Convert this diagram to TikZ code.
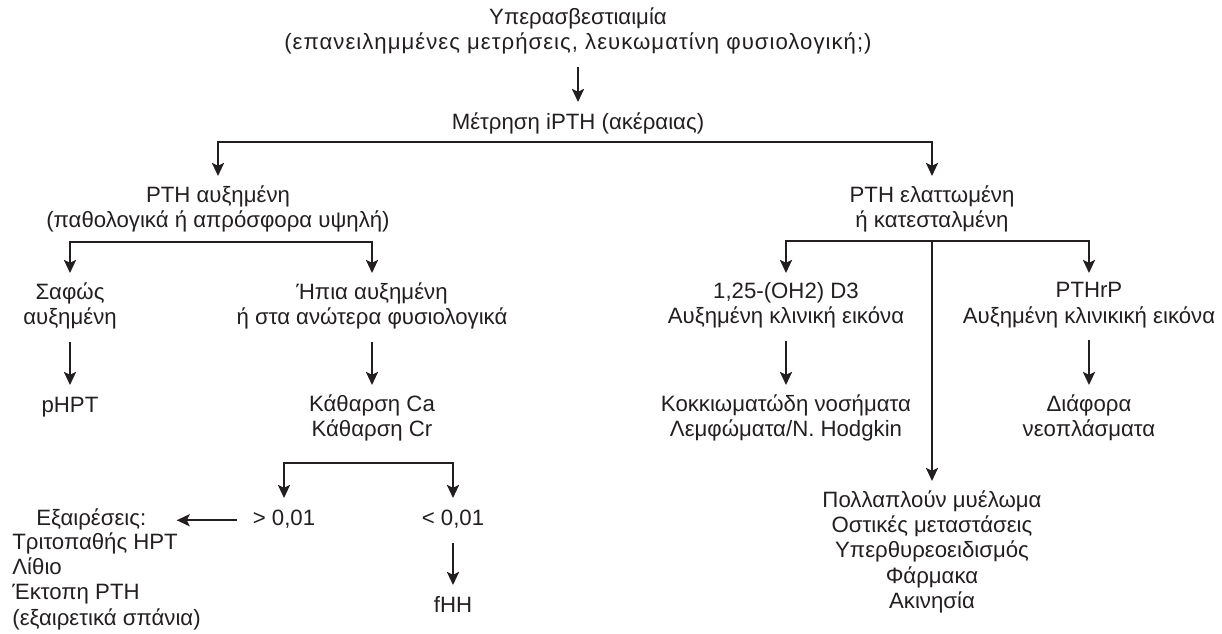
\documentclass[tikz,border=0pt]{standalone}
\usepackage{fontspec}
\setmainfont{Liberation Sans}
\usetikzlibrary{arrows.meta}
\definecolor{tinta}{RGB}{35,31,32}
\tikzset{
  caja/.style={align=center, inner xsep=0pt, inner ysep=4.6pt, anchor=north,
    execute at begin node=\strut},
  flecha/.style={->, line width=1.2pt},
  doble/.style={<->, line width=1.2pt}
}
\newcommand{\rama}[3]{%
  \draw[doble] (#1) -- (#3 -| #1) -- (#3 -| #2) -- (#2);}

\begin{document}
\begin{tikzpicture}[x=0.5pt, y=-0.5pt, font=\fontsize{11.1}{12.65}\selectfont, color=tinta,
    >={Stealth[length=6.5pt, width=6pt, inset=1.4pt]}]
  \useasboundingbox (0,0) rectangle (1222,633);
  \node[caja] (hiper) at (578,-2) {Υπερασβεστιαιμία\\
    {\addfontfeature{LetterSpace=4.5}(επανειλημμένες μετρήσεις, λευκωματίνη φυσιολογική;)}};
  \node[caja] (ipth) at (578,102) {Μέτρηση iPTH (ακέραιας)};
  \node[caja] (aux) at (218,176) {PTH αυξημένη\\(παθολογικά ή απρόσφορα υψηλή)};
  \node[caja] (ela) at (932,176) {PTH ελαττωμένη\\ή κατεσταλμένη};
  \node[caja] (safos) at (70,273) {Σαφώς\\αυξημένη};
  \node[caja] (ipia) at (372,273) {Ήπια αυξημένη\\ή στα ανώτερα φυσιολογικά};
  \node[caja] (phpt) at (70,385) {pHPT};
  \node[caja] (kath) at (372,385) {Κάθαρση Ca\\Κάθαρση Cr};
  \node[caja] (megal) at (284,498) {> 0,01};
  \node[caja] (mikr) at (453,498) {< 0,01};
  \node[caja, anchor=north west] (exair) at (36,498) {Εξαιρέσεις:};
  \node[caja, anchor=north west, align=left] (exlist) at (12,523)
    {Τριτοπαθής HPT\\Λίθιο\\Έκτοπη PTH\\(εξαιρετικά σπάνια)};
  \node[caja] (fhh) at (453,585) {fHH};
  \node[caja] (vitd) at (786,273) {1,25-(OH2) D3\\Αυξημένη κλινική εικόνα};
  \node[caja] (pthrp) at (1089,273) {PTHrP\\Αυξημένη κλινικική εικόνα};
  \node[caja] (kokk) at (786,385) {Κοκκιωματώδη νοσήματα\\Λεμφώματα/Ν. Hodgkin};
  \node[caja] (diaf) at (1089,385) {Διάφορα\\νεοπλάσματα};
  \node[caja] (poll) at (932,481)
    {Πολλαπλούν μυέλωμα\\Οστικές μεταστάσεις\\Υπερθυρεοειδισμός\\Φάρμακα\\Ακινησία};

  \coordinate (d1) at (578,142);
  \coordinate (d2) at (218,242);
  \coordinate (d3) at (932,241);
  \coordinate (d4) at (372,463);

  \draw[flecha] (hiper) -- (ipth);
  \rama{aux}{ela}{d1}
  \rama{safos}{ipia}{d2}
  \rama{vitd}{pthrp}{d3}
  \rama{megal}{mikr}{d4}
  \foreach \a/\b in {safos/phpt, ipia/kath, mikr/fhh, vitd/kokk, pthrp/diaf, d3/poll}
    \draw[flecha] (\a) -- (\b);
  \draw[flecha, shorten <=7.5pt, shorten >=15pt] (megal.west) -- (megal.west -| exair.east);
\end{tikzpicture}
\end{document}
